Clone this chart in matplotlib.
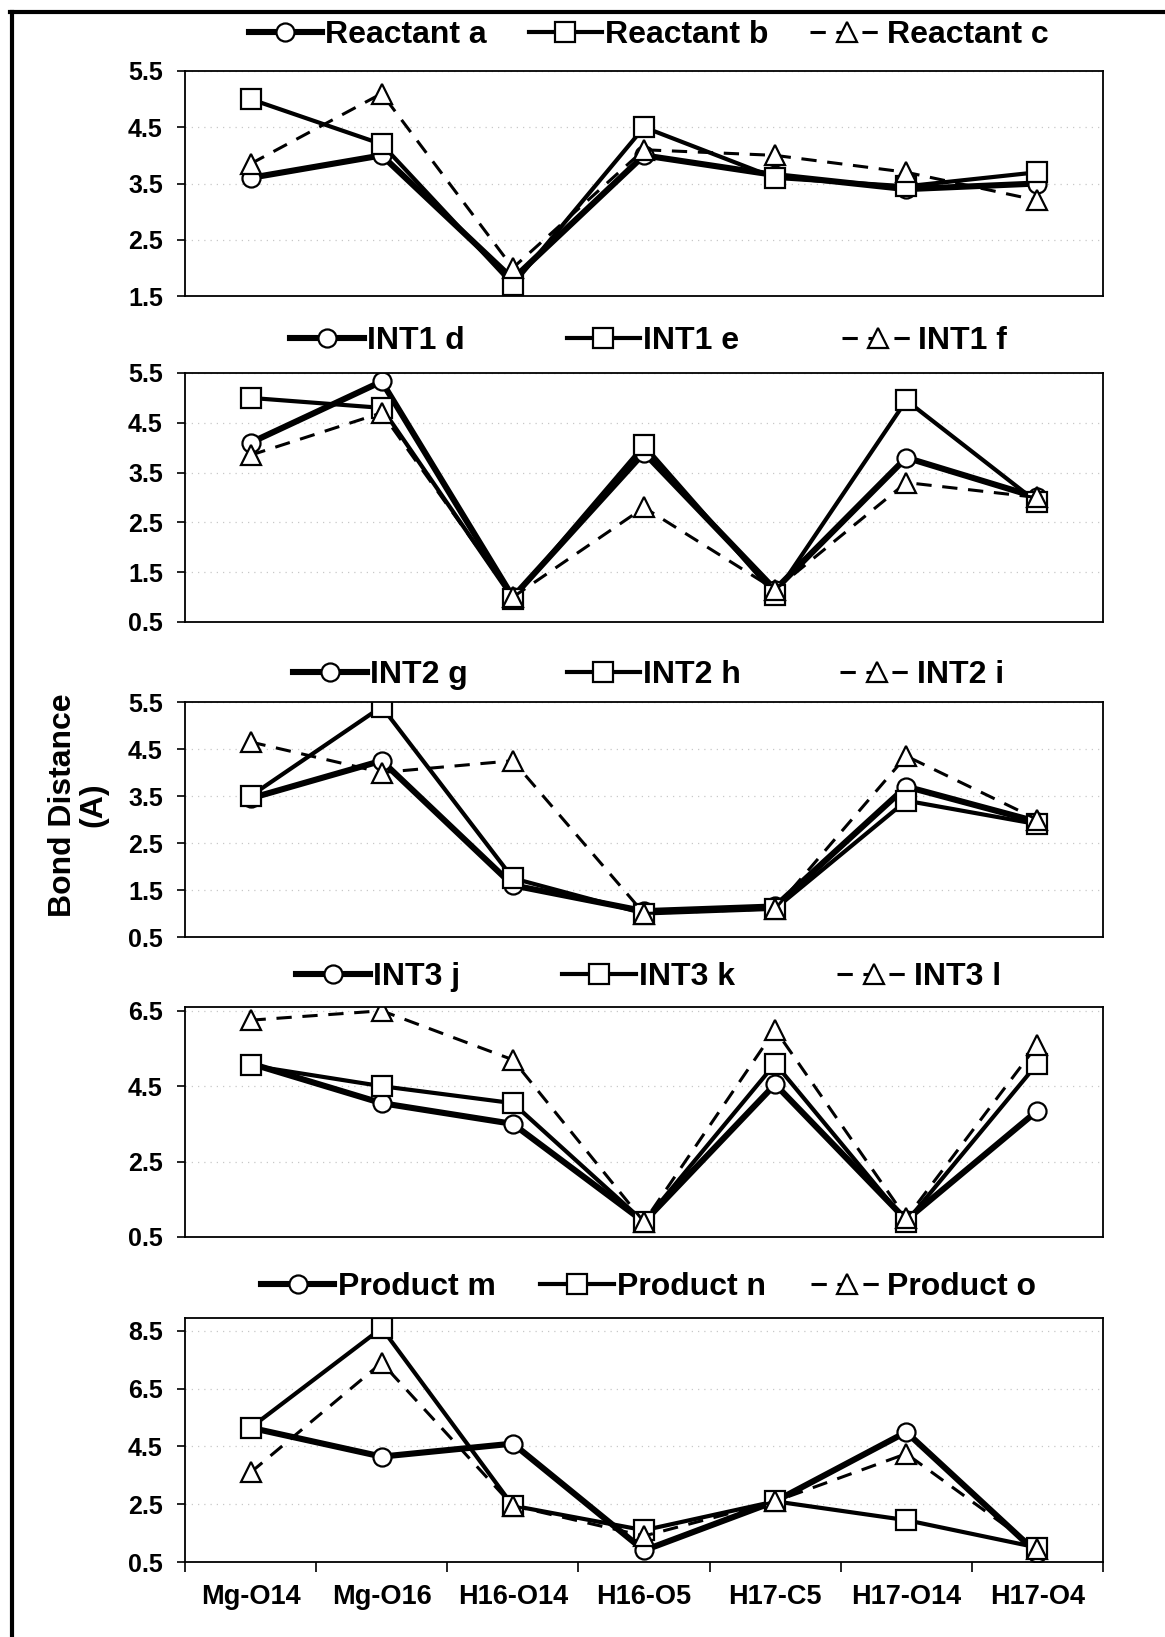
import matplotlib
matplotlib.use("Agg")
import matplotlib.pyplot as plt
from matplotlib.lines import Line2D

plt.rcParams["font.family"] = ["Liberation Sans", "DejaVu Sans"]
plt.rcParams["font.weight"] = "bold"

# bond labels (x axis)
categories = ["Mg-O14", "Mg-O16", "H16-O14", "H16-O5", "H17-C5", "H17-O14", "H17-O4"]

# Reactant
reactant_a = [3.6, 4.0, 1.8, 4.0, 3.65, 3.4, 3.5]
reactant_b = [5.0, 4.2, 1.7, 4.5, 3.6, 3.45, 3.7]
reactant_c = [3.85, 5.1, 2.0, 4.1, 4.0, 3.7, 3.2]

# INT1
int1_d = [4.1, 5.33, 1.0, 3.9, 1.15, 3.8, 3.0]
int1_e = [5.0, 4.8, 0.97, 4.05, 1.05, 4.95, 2.9]
int1_f = [3.85, 4.7, 1.0, 2.8, 1.15, 3.3, 3.0]

# INT2
int2_g = [3.45, 4.25, 1.6, 1.05, 1.15, 3.7, 2.95]
int2_h = [3.5, 5.4, 1.75, 1.0, 1.1, 3.4, 2.9]
int2_i = [4.65, 4.0, 4.25, 1.0, 1.1, 4.35, 3.0]

# INT3
int3_j = [5.1, 4.05, 3.5, 0.9, 4.55, 0.95, 3.85]
int3_k = [5.05, 4.5, 4.05, 0.9, 5.1, 0.9, 5.1]
int3_l = [6.25, 6.5, 5.2, 0.9, 6.0, 1.0, 5.6]

# Product
product_m = [5.15, 4.15, 4.6, 0.9, 2.6, 5.0, 0.8]
product_n = [5.15, 8.6, 2.45, 1.6, 2.6, 1.95, 1.0]
product_o = [3.6, 7.4, 2.45, 1.4, 2.6, 4.25, 0.95]

panels = [
    (["Reactant a", "Reactant b", "Reactant c"], [reactant_a, reactant_b, reactant_c], (1.5, 5.5), [1.5, 2.5, 3.5, 4.5, 5.5]),
    (["INT1 d", "INT1 e", "INT1 f"], [int1_d, int1_e, int1_f], (0.5, 5.5), [0.5, 1.5, 2.5, 3.5, 4.5, 5.5]),
    (["INT2 g", "INT2 h", "INT2 i"], [int2_g, int2_h, int2_i], (0.5, 5.5), [0.5, 1.5, 2.5, 3.5, 4.5, 5.5]),
    (["INT3 j", "INT3 k", "INT3 l"], [int3_j, int3_k, int3_l], (0.5, 6.6), [0.5, 2.5, 4.5, 6.5]),
    (["Product m", "Product n", "Product o"], [product_m, product_n, product_o], (0.5, 8.95), [0.5, 2.5, 4.5, 6.5, 8.5]),
]

# axes boxes in pixels from top: (bottom, top, legend centre), plus legend column gap
H = 1637.0
boxes = [(296, 71, 35, 1.3), (622, 373, 341, 3.2), (937, 702, 675, 3.1),
         (1237, 1007, 977, 3.2), (1562, 1318, 1287, 1.4)]
LEFT, RIGHT = 185 / 1165.0, 1103 / 1165.0

styles = [
    dict(marker="o", lw=4.4, ms=13, ls="-"),
    dict(marker="s", lw=3.0, ms=14, ls="-"),
    dict(marker="^", lw=2.2, ms=14, ls=(0, (5, 3.5))),
]

fig = plt.figure(figsize=(11.65, 16.37), dpi=100)
x = list(range(len(categories)))

for i, ((labels, series, ylim, yticks), (bot, top, leg_y, gap)) in enumerate(zip(panels, boxes)):
    ax = fig.add_axes([LEFT, 1 - bot / H, RIGHT - LEFT, (bot - top) / H])
    handles = []
    for lab, vals, st in zip(labels, series, styles):
        ln, = ax.plot(x, vals, color="black", linestyle=st["ls"], linewidth=st["lw"],
                      marker=st["marker"], markersize=st["ms"], markerfacecolor="white",
                      markeredgecolor="black", markeredgewidth=1.6, label=lab)
        handles.append(ln)
    ax.set_xlim(-0.5, len(categories) - 0.5)
    ax.set_ylim(*ylim)
    ax.set_yticks(yticks)
    ax.set_yticklabels([f"{t:.1f}" for t in yticks])
    ax.tick_params(axis="y", direction="out", length=6, width=1.2, pad=10, labelsize=18)
    ax.yaxis.grid(True, color="#c8c8c8", linestyle=(0, (1, 4)), linewidth=0.9)
    ax.set_axisbelow(True)
    for sp in ax.spines.values():
        sp.set_linewidth(1.3)

    if i == len(panels) - 1:
        ax.set_xticks(x)
        ax.set_xticklabels(categories, fontsize=19.5, fontweight="bold")
        ax.tick_params(axis="x", which="major", length=0, pad=16)
        ax.set_xticks([v - 0.5 for v in x] + [len(categories) - 0.5], minor=True)
        ax.tick_params(axis="x", which="minor", direction="out", length=7, width=1.2)
    else:
        ax.set_xticks([])

    fig.legend(handles=handles, loc="center", bbox_to_anchor=((LEFT + RIGHT) / 2 + 0.004, 1 - leg_y / H),
               ncol=3, frameon=False, handlelength=2.3, handletextpad=0.1,
               columnspacing=gap, borderpad=0, borderaxespad=0, numpoints=1,
               prop=dict(size=23, weight="bold"))

fig.text(78 / 1165.0, 1 - 805 / H, "Bond Distance\n(A)", rotation=90, ha="center", va="center",
         fontsize=23, fontweight="bold", linespacing=1.0, multialignment="center")

# outer frame (top and left edges only, the rest is cropped off)
fig.add_artist(Line2D([10 / 1165.0, 1.0], [1 - 12 / H, 1 - 12 / H], color="black", lw=3.0,
                      transform=fig.transFigure))
fig.add_artist(Line2D([12 / 1165.0, 12 / 1165.0], [0.0, 1 - 12 / H], color="black", lw=3.0,
                      transform=fig.transFigure))

fig.savefig("out.png", dpi=100, facecolor="white")
plt.close(fig)
